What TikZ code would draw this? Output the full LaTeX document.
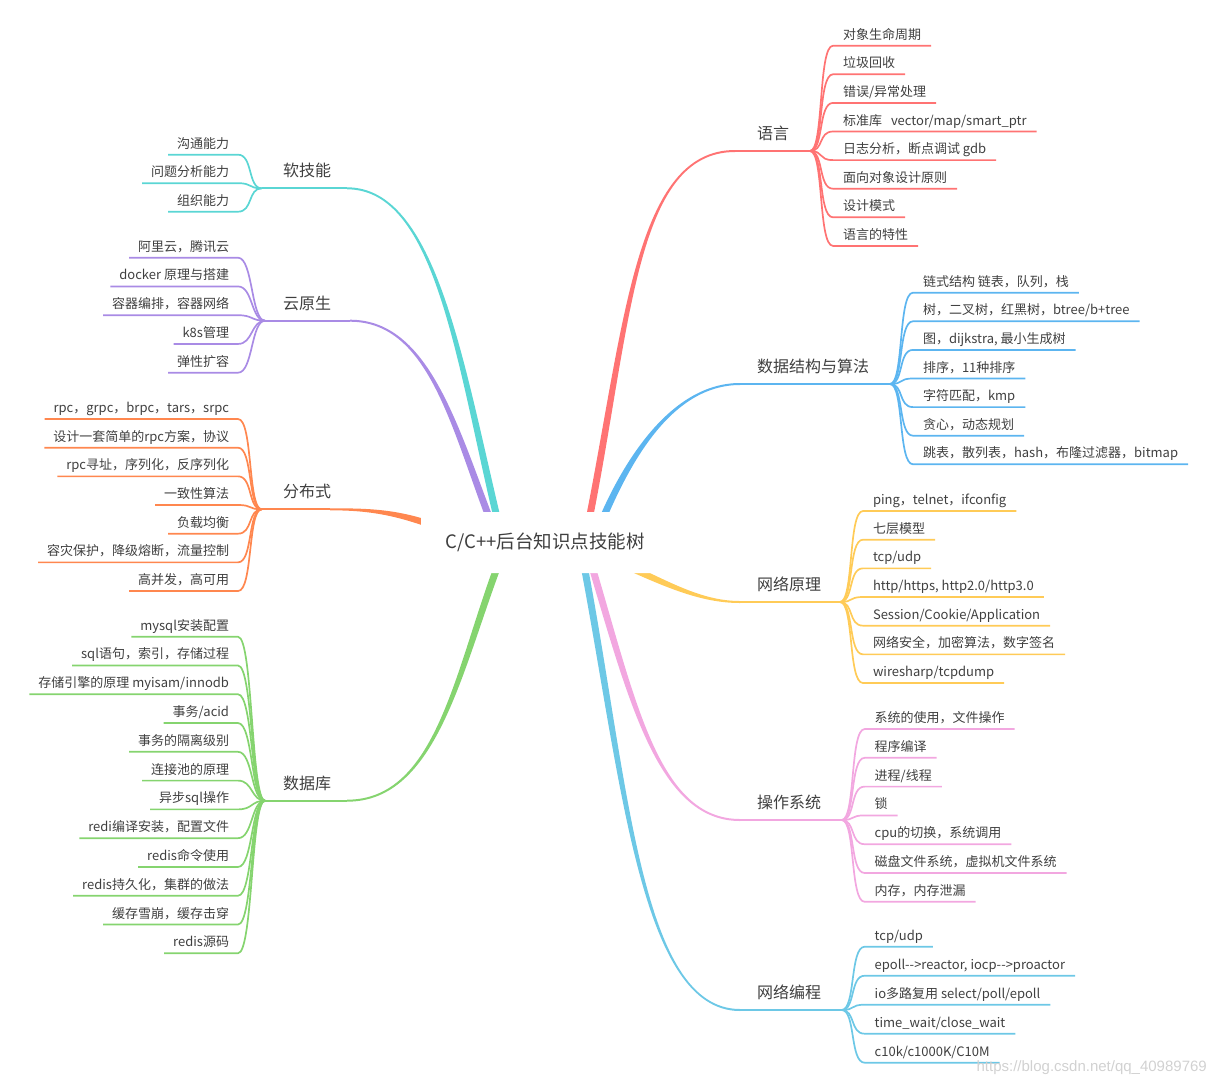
\documentclass[tikz,border=0pt]{standalone}
\usepackage{fontspec}
\setmainfont{Noto Sans CJK SC}
\newfontfamily\wmfont{Liberation Sans}
\usetikzlibrary{calc}
\pgfdeclarelayer{bg}
\pgfsetlayers{bg,main}
\definecolor{cRed}{HTML}{FF7373}
\definecolor{cBlue}{HTML}{5CB5F0}
\definecolor{cYellow}{HTML}{FFCB57}
\definecolor{cPink}{HTML}{F2A7E0}
\definecolor{cCyan}{HTML}{6DC8E6}
\definecolor{cTeal}{HTML}{5AD6D4}
\definecolor{cPurple}{HTML}{A98BE5}
\definecolor{cOrange}{HTML}{FF874F}
\definecolor{cGreen}{HTML}{85D46F}
\definecolor{txt}{HTML}{3F3F3F}
\tikzset{
  leaf/.style={font=\fontsize{13}{15}\selectfont, text=txt, inner ysep=0pt, text height=10pt, text depth=6.5pt, outer sep=0pt},
  leafR/.style={leaf, anchor=south west, inner xsep=10pt},
  leafL/.style={leaf, anchor=south east, inner xsep=9pt},
  topic/.style={font=\fontsize{16}{18}\selectfont, text=txt, inner sep=0pt, text height=12pt, text depth=11.5pt, anchor=south west},
  rootnode/.style={font=\fontsize{18.5}{20}\selectfont, text=txt, fill=white, minimum width=248pt, minimum height=61pt, inner sep=0pt, rounded corners=4pt},
  link/.style={line width=1.7pt},
  stem/.style={line width=2pt},
}
% tapered main branch: color, P0, P1, P2, P3
\newcommand{\mbranch}[5]{%
  \fill[#1] ($(#2)!3.5pt!90:(#3)$) .. controls ($(#3)!3.5pt!-90:(#2)$) and ($(#4)!1pt!90:(#5)$) .. ($(#5)!1pt!-90:(#4)$) -- ($(#5)!1pt!90:(#4)$) .. controls ($(#4)!1pt!-90:(#5)$) and ($(#3)!3.5pt!90:(#2)$) .. ($(#2)!3.5pt!-90:(#3)$) -- cycle;}
\begin{document}
\begin{tikzpicture}[x=1pt,y=-1pt]
\useasboundingbox (0,0) rectangle (1215,1085);
\node[rootnode] (root) at (545,542.5) {C/C++后台知识点技能树};

\begin{pgfonlayer}{bg}
% ---------------- right: 语言
\coordinate (yA) at (588,525); \coordinate (yB) at (628,325);
\coordinate (yC) at (635,151); \coordinate (yD) at (735,151);
\coordinate (yyF) at (810,151);
\node[topic] (yy) at (757,151) {语言};
\mbranch{cRed}{yA}{yB}{yC}{yD}
\draw[cRed, stem] (yD) -- (yyF);
\foreach \lbl [count=\idx from 0] in {对象生命周期,垃圾回收,错误/异常处理,{标准库\hspace{9pt}vector/map/smart\_ptr},日志分析，断点调试 gdb,面向对象设计原则,设计模式,语言的特性}{
  \node[leafR] (yy\idx) at (833,{45.7+28.6*\idx}) {\lbl};
  \draw[cRed, link] (yyF) .. controls +(14,0) and +(-15,0) .. (yy\idx.south west) -- (yy\idx.south east);
}
% ---------------- right: 数据结构与算法
\coordinate (sA) at (600,525); \coordinate (sB) at (625,465);
\coordinate (sC) at (670,384); \coordinate (sD) at (740,384);
\coordinate (sjF) at (890,384);
\node[topic] (sj) at (757,384) {数据结构与算法};
\mbranch{cBlue}{sA}{sB}{sC}{sD}
\draw[cBlue, stem] (sD) -- (sjF);
\foreach \lbl [count=\idx from 0] in {链式结构 链表，队列，栈,树，二叉树，红黑树，btree/b+tree,{图，dijkstra, 最小生成树},排序，11种排序,字符匹配，kmp,贪心，动态规划,跳表，散列表，hash，布隆过滤器，bitmap}{
  \node[leafR] (sj\idx) at (913,{292.7+28.6*\idx}) {\lbl};
  \draw[cBlue, link] (sjF) .. controls +(14,0) and +(-15,0) .. (sj\idx.south west) -- (sj\idx.south east);
}
% ---------------- right: 网络原理
\coordinate (wA) at (620,563); \coordinate (wB) at (665,583);
\coordinate (wC) at (700,602); \coordinate (wD) at (740,602);
\coordinate (wlF) at (840,602);
\node[topic] (wl) at (757,602) {网络原理};
\mbranch{cYellow}{wA}{wB}{wC}{wD}
\draw[cYellow, stem] (wD) -- (wlF);
\foreach \lbl [count=\idx from 0] in {ping，telnet，ifconfig,七层模型,tcp/udp,{http/https, http2.0/http3.0},Session/Cookie/Application,网络安全，加密算法，数字签名,wiresharp/tcpdump}{
  \node[leafR] (wl\idx) at (863,{511+28.67*\idx}) {\lbl};
  \draw[cYellow, link] (wlF) .. controls +(14,0) and +(-15,0) .. (wl\idx.south west) -- (wl\idx.south east);
}
% ---------------- right: 操作系统
\coordinate (oA) at (590,560); \coordinate (oB) at (632,700);
\coordinate (oC) at (658,820); \coordinate (oD) at (740,820);
\coordinate (czF) at (841.7,820);
\node[topic] (cz) at (757,820) {操作系统};
\mbranch{cPink}{oA}{oB}{oC}{oD}
\draw[cPink, stem] (oD) -- (czF);
\foreach \lbl [count=\idx from 0] in {系统的使用，文件操作,程序编译,进程/线程,锁,cpu的切换，系统调用,磁盘文件系统，虚拟机文件系统,内存，内存泄漏}{
  \node[leafR] (cz\idx) at (864.7,{729+28.8*\idx}) {\lbl};
  \draw[cPink, link] (czF) .. controls +(14,0) and +(-15,0) .. (cz\idx.south west) -- (cz\idx.south east);
}
% ---------------- right: 网络编程
\coordinate (nA) at (583,560); \coordinate (nB) at (625,780);
\coordinate (nC) at (640,1010); \coordinate (nD) at (740,1010);
\coordinate (wbF) at (841.7,1010);
\node[topic] (wb) at (757,1010) {网络编程};
\mbranch{cCyan}{nA}{nB}{nC}{nD}
\draw[cCyan, stem] (nD) -- (wbF);
\foreach \lbl [count=\idx from 0] in {tcp/udp,{epoll-{}->reactor, iocp-{}->proactor},io多路复用 select/poll/epoll,time\_wait/close\_wait,c10k/c1000K/C10M}{
  \node[leafR] (wb\idx) at (864.7,{946.7+29*\idx}) {\lbl};
  \draw[cCyan, link] (wbF) .. controls +(14,0) and +(-15,0) .. (wb\idx.south west) -- (wb\idx.south east);
}
% ---------------- left: 软技能
\coordinate (tA) at (500,530); \coordinate (tB) at (460,365);
\coordinate (tC) at (437,188.3); \coordinate (tD) at (347,188.3);
\coordinate (rjF) at (261.7,188.3);
\node[topic] (rj) at (283,188.3) {软技能};
\mbranch{cTeal}{tA}{tB}{tC}{tD}
\draw[cTeal, stem] (tD) -- (rjF);
\foreach \lbl [count=\idx from 0] in {沟通能力,问题分析能力,组织能力}{
  \node[leafL] (rj\idx) at (238,{154.7+28.5*\idx}) {\lbl};
  \draw[cTeal, link] (rjF) .. controls +(-14,0) and +(15,0) .. (rj\idx.south east) -- (rj\idx.south west);
}
% ---------------- left: 云原生
\coordinate (pA) at (494,530); \coordinate (pB) at (455,430);
\coordinate (pC) at (430,320.7); \coordinate (pD) at (350,320.7);
\coordinate (yysF) at (265,320.7);
\node[topic] (yys) at (283,320.7) {云原生};
\mbranch{cPurple}{pA}{pB}{pC}{pD}
\draw[cPurple, stem] (pD) -- (yysF);
\foreach \lbl [count=\idx from 0] in {阿里云，腾讯云,docker 原理与搭建,容器编排，容器网络,k8s管理,弹性扩容}{
  \node[leafL] (yys\idx) at (238,{257.7+28.75*\idx}) {\lbl};
  \draw[cPurple, link] (yysF) .. controls +(-14,0) and +(15,0) .. (yys\idx.south east) -- (yys\idx.south west);
}
% ---------------- left: 分布式
\coordinate (fA) at (445,530); \coordinate (fB) at (400,512);
\coordinate (fC) at (370,509.3); \coordinate (fD) at (330,509.3);
\coordinate (fbF) at (261.7,509.3);
\node[topic] (fb) at (283,509.3) {分布式};
\mbranch{cOrange}{fA}{fB}{fC}{fD}
\draw[cOrange, stem] (fD) -- (fbF);
\foreach \lbl [count=\idx from 0] in {rpc，grpc，brpc，tars，srpc,设计一套简单的rpc方案，协议,rpc寻址，序列化，反序列化,一致性算法,负载均衡,容灾保护，降级熔断，流量控制,高并发，高可用}{
  \node[leafL] (fb\idx) at (238,{419+28.67*\idx}) {\lbl};
  \draw[cOrange, link] (fbF) .. controls +(-14,0) and +(15,0) .. (fb\idx.south east) -- (fb\idx.south west);
}
% ---------------- left: 数据库
\coordinate (gA) at (500,560); \coordinate (gB) at (458,670);
\coordinate (gC) at (437,800.7); \coordinate (gD) at (347,800.7);
\coordinate (sjkF) at (265,800.7);
\node[topic] (sjk) at (283,800.7) {数据库};
\mbranch{cGreen}{gA}{gB}{gC}{gD}
\draw[cGreen, stem] (gD) -- (sjkF);
\foreach \lbl [count=\idx from 0] in {mysql安装配置,sql语句，索引，存储过程,存储引擎的原理 myisam/innodb,事务/acid,事务的隔离级别,连接池的原理,异步sql操作,redi编译安装，配置文件,redis命令使用,redis持久化，集群的做法,缓存雪崩，缓存击穿,redis源码}{
  \node[leafL] (sjk\idx) at (238,{636.7+28.78*\idx}) {\lbl};
  \draw[cGreen, link] (sjkF) .. controls +(-14,0) and +(15,0) .. (sjk\idx.south east) -- (sjk\idx.south west);
}
\end{pgfonlayer}

\node[font=\wmfont\fontsize{15}{17}\selectfont, text=black!18, anchor=base east, inner sep=0pt] (wm) at (1207,1071) {https://blog.csdn.net/qq\_40989769};
\end{tikzpicture}
\end{document}
